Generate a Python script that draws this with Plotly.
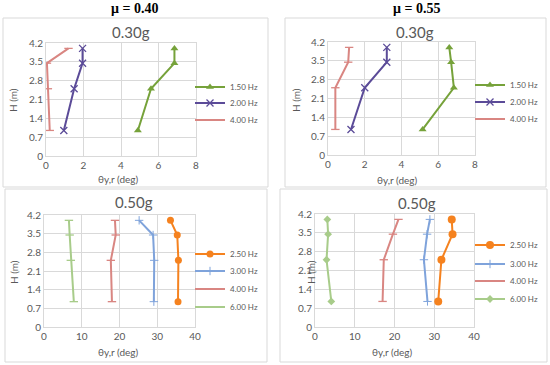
import plotly.graph_objects as go

W, H = 550, 365

heights = [0.95, 2.5, 3.45, 4.0]

# mu = 0.40, 0.30g
tl_150 = [4.9, 5.6, 6.85, 6.85]
tl_200 = [0.95, 1.5, 1.95, 1.95]
tl_400 = [0.2, 0.1, 0.05, 1.2]
# mu = 0.55, 0.30g
tr_150 = [5.15, 6.85, 6.7, 6.6]
tr_200 = [1.25, 2.0, 3.2, 3.2]
tr_400 = [0.4, 0.4, 1.1, 1.15]
# mu = 0.40, 0.50g
bl_250 = [35.5, 35.6, 35.3, 33.5]
bl_300 = [29.1, 29.2, 28.9, 25.2]
bl_400 = [18.0, 17.7, 19.0, 18.8]
bl_600 = [7.9, 7.1, 6.8, 6.6]
# mu = 0.55, 0.50g
br_250 = [31.0, 31.8, 34.6, 34.4]
br_300 = [28.3, 27.4, 28.2, 28.9]
br_400 = [17.0, 17.3, 19.6, 21.0]
br_600 = [4.1, 2.9, 3.3, 3.1]

yticks = [0, 0.7, 1.4, 2.1, 2.8, 3.5, 4.2]
ytick_text = ["0", "0.7", "1.4", "2.1", "2.8", "3.5", "4.2"]

C150 = "#76A23A"
C200 = "#5B4B98"
C400 = "#D98682"
C250 = "#F5821F"
C300 = "#7FA3DB"
C600 = "#A8CC8A"
GRAY = "#595959"
GRID = "#D9D9D9"
FONT = "Lato"


def px(x):
    return x / W


def py(y):
    return 1 - y / H


fig = go.Figure()
legend_specs = []


def add(xvals, name, color, sym, size, axis, lx, ly, mline=None):
    marker = dict(symbol=sym, size=size, color=color)
    if mline is not None:
        marker["line"] = dict(color=color, width=mline)
    idx = len(legend_specs) + 1
    lname = "legend" if idx == 1 else "legend%d" % idx
    legend_specs.append((lname, lx, ly))
    fig.add_trace(go.Scatter(
        x=xvals, y=heights, name=name, mode="lines+markers",
        line=dict(color=color, width=2), marker=marker,
        xaxis="x" + axis, yaxis="y" + axis, legend=lname, showlegend=True,
    ))


LXL, LXR = 190, 470
add(tl_150, "1.50 Hz", C150, "triangle-up", 7, "", LXL, 87)
add(tl_200, "2.00 Hz", C200, "x-thin", 7, "", LXL, 103, 1.3)
add(tl_400, "4.00 Hz", C400, "line-ew", 6, "", LXL, 120, 1.3)

add(tr_150, "1.50 Hz", C150, "triangle-up", 7, "2", LXR, 85)
add(tr_200, "2.00 Hz", C200, "x-thin", 7, "2", LXR, 102, 1.3)
add(tr_400, "4.00 Hz", C400, "line-ew", 6, "2", LXR, 119, 1.3)

add(bl_250, "2.50 Hz", C250, "circle", 7, "3", LXL, 254)
add(bl_300, "3.00 Hz", C300, "cross-thin", 6, "3", LXL, 271, 1.0)
add(bl_400, "4.00 Hz", C400, "line-ew", 6, "3", LXL, 289, 1.3)
add(bl_600, "6.00 Hz", C600, "line-ew", 6, "3", LXL, 307, 1.3)

add(br_250, "2.50 Hz", C250, "circle", 8, "4", LXR, 245)
add(br_300, "3.00 Hz", C300, "cross-thin", 6, "4", LXR, 264, 1.0)
add(br_400, "4.00 Hz", C400, "line-ew", 6, "4", LXR, 281, 1.3)
add(br_600, "6.00 Hz", C600, "diamond", 6, "4", LXR, 299)

plots = {
    "": (46, 196, 43, 156, 8, 2),
    "2": (328, 475, 42, 155, 8, 2),
    "3": (44, 195, 215, 327, 40, 10),
    "4": (315, 474, 214, 327, 40, 10),
}

layout = dict(
    width=W, height=H, margin=dict(l=0, r=0, t=0, b=0, autoexpand=False),
    paper_bgcolor="white", plot_bgcolor="white", showlegend=True,
    font=dict(family=FONT, color=GRAY, size=10),
)

for k, (x0, x1, y0, y1, xmax, dt) in plots.items():
    layout["xaxis" + k] = dict(
        domain=[px(x0), px(x1)], range=[0, xmax], dtick=dt, tick0=0,
        showgrid=True, gridcolor=GRID, gridwidth=1,
        showline=True, linecolor=GRID, mirror=True, zeroline=False,
        ticks="", tickfont=dict(size=10, color=GRAY), fixedrange=True,
        anchor="y" + k, automargin=False,
    )
    layout["yaxis" + k] = dict(
        domain=[py(y1), py(y0)], range=[0, 4.2],
        tickvals=yticks, ticktext=ytick_text,
        showgrid=True, gridcolor=GRID, gridwidth=1,
        showline=True, linecolor=GRID, mirror=True, zeroline=False,
        ticks="", tickfont=dict(size=10, color=GRAY), fixedrange=True,
        anchor="x" + k, automargin=False,
    )

for lname, lx, ly in legend_specs:
    layout[lname] = dict(
        x=px(lx), y=py(ly), xanchor="left", yanchor="middle",
        font=dict(size=8, color=GRAY, family=FONT),
        bgcolor="rgba(0,0,0,0)", tracegroupgap=0, itemwidth=30,
        visible=True,
    )

fig.update_layout(**layout)

# panel boxes
boxes = [(3, 268, 18, 187), (285, 546, 18, 187), (5, 267, 189, 362), (280, 547, 189, 362)]
for (x0, x1, y0, y1) in boxes:
    fig.add_shape(type="rect", xref="paper", yref="paper",
                  x0=px(x0), x1=px(x1), y0=py(y1), y1=py(y0),
                  line=dict(color=GRID, width=1))

ann = []
ann.append(dict(text="<b>\u03bc = 0.40</b>", x=px(134), y=py(8)))
ann.append(dict(text="<b>\u03bc = 0.55</b>", x=px(416), y=py(8)))
for a in ann:
    a.update(font=dict(family="Liberation Serif", size=14, color="#000000"))

titles = [("0.30g", 131, 32), ("0.30g", 415, 32), ("0.50g", 134, 202), ("0.50g", 417, 203)]
for t, x, y in titles:
    ann.append(dict(text=t, x=px(x), y=py(y), font=dict(family=FONT, size=15, color=GRAY)))

xt = [(118, 179), (397, 180), (118, 352), (392, 352)]
for x, y in xt:
    ann.append(dict(text="\u03b8y,r (deg)", x=px(x), y=py(y), font=dict(family=FONT, size=10, color=GRAY)))

yt = [(13, 100), (296, 100), (14, 272), (311, 272)]
for x, y in yt:
    ann.append(dict(text="H (m)", x=px(x), y=py(y), textangle=-90,
                    font=dict(family=FONT, size=10, color=GRAY)))

for a in ann:
    a.update(xref="paper", yref="paper", showarrow=False, xanchor="center", yanchor="middle")
    fig.add_annotation(**a)

fig.write_html("out.html", config={"displayModeBar": False},
               post_script="document.body.style.margin='0';")
